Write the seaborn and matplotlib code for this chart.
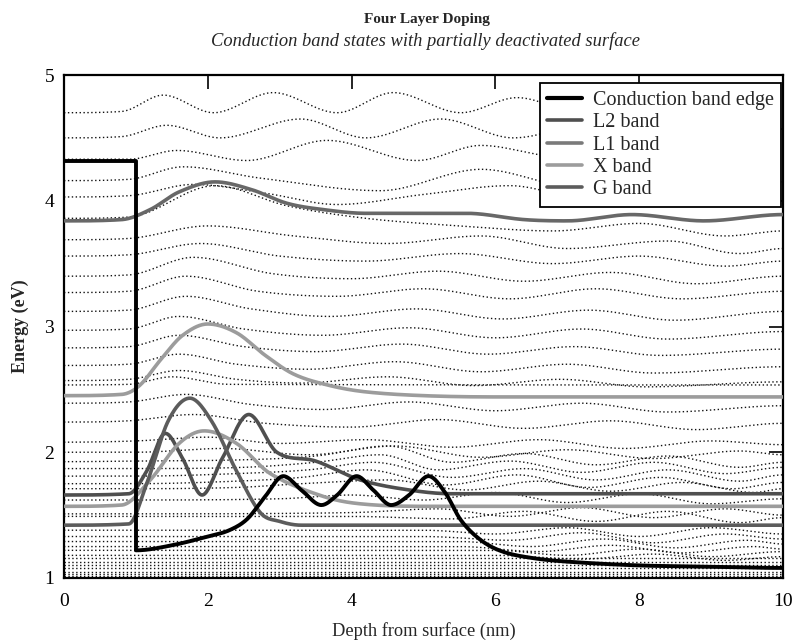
import numpy as np
import matplotlib
matplotlib.use("Agg")
import matplotlib.pyplot as plt
import seaborn as sns
import pandas as pd

# ---------------------------------------------------------------- data
# Conduction band edge: surface barrier step, then the doped-layer profile
edge_step_x = [0.0, 1.0, 1.0]
edge_step_e = [4.32, 4.32, 1.22]
edge_x = [1.0, 1.5, 2.0, 2.3, 2.55, 2.8, 3.05, 3.3, 3.58, 3.8, 4.07, 4.3, 4.55,
          4.8, 5.07, 5.3, 5.52, 5.8, 6.1, 6.5, 7.0, 8.0, 9.0, 10.0]
edge_e = [1.22, 1.26, 1.33, 1.38, 1.47, 1.65, 1.81, 1.70, 1.58, 1.66, 1.81, 1.70,
          1.58, 1.66, 1.81, 1.68, 1.46, 1.30, 1.21, 1.16, 1.13, 1.10, 1.09, 1.08]

# Highlighted states (probability density drawn on top of the eigen-energy)
g_x = [0.0, 0.9, 1.15, 1.45, 1.75, 2.05, 2.4, 2.73, 3.0, 3.3, 4.0, 10.0]
g_e = [1.42, 1.43, 1.75, 2.25, 2.43, 2.25, 1.85, 1.52, 1.45, 1.42, 1.42, 1.42]

l2_x = [0.0, 0.9, 1.15, 1.41, 1.65, 1.92, 2.2, 2.57, 2.96, 3.5, 4.12, 4.8, 5.4, 10.0]
l2_e = [1.66, 1.67, 1.85, 2.15, 1.95, 1.66, 1.95, 2.30, 2.00, 1.93, 1.78, 1.70, 1.67, 1.67]

x_x = [0.0, 0.8, 1.2, 1.6, 1.95, 2.4, 2.87, 3.6, 4.12, 5.0, 6.0, 10.0]
x_e = [1.57, 1.58, 1.78, 2.07, 2.17, 2.07, 1.83, 1.65, 1.59, 1.57, 1.57, 1.57]

l1_x = [0.0, 0.8, 1.05, 1.35, 1.65, 2.0, 2.4, 2.8, 3.2, 3.7, 4.2, 5.0, 6.0, 10.0]
l1_e = [2.45, 2.46, 2.53, 2.74, 2.93, 3.02, 2.95, 2.77, 2.62, 2.53, 2.48, 2.45, 2.44, 2.44]

top_x = [0.0, 0.8, 1.2, 1.6, 2.1, 2.6, 3.1, 3.6, 4.2, 5.0, 5.6, 6.4, 7.0, 7.9, 8.9, 10.0]
top_e = [3.84, 3.85, 3.93, 4.07, 4.15, 4.09, 3.98, 3.93, 3.90, 3.90, 3.90, 3.85,
         3.84, 3.89, 3.84, 3.89]

# Remaining confined states (dotted), as (depth, energy) knots
dotted_states = [
    [(0, 4.70), (0.8, 4.71), (1.38, 4.84), (2.08, 4.70), (2.91, 4.86), (3.8, 4.70),
     (4.58, 4.86), (5.52, 4.70), (6.3, 4.82), (7.2, 4.70), (8.0, 4.82), (8.9, 4.72),
     (9.6, 4.80), (10, 4.76)],
    [(0, 4.50), (0.8, 4.51), (1.43, 4.60), (2.17, 4.50), (3.29, 4.65), (4.2, 4.50),
     (5.24, 4.65), (6.25, 4.50), (7.4, 4.62), (8.5, 4.52), (9.5, 4.60), (10, 4.57)],
    [(0, 4.33), (0.9, 4.33), (1.57, 4.40), (2.54, 4.32), (3.66, 4.48), (4.91, 4.32),
     (5.8, 4.44), (6.9, 4.35), (8.0, 4.45), (9.0, 4.36), (10, 4.40)],
    [(0, 4.16), (0.9, 4.17), (1.66, 4.27), (2.73, 4.18), (4.4, 4.08), (5.8, 4.25),
     (7.2, 4.10), (8.5, 4.25), (10, 4.15)],
    [(0, 4.03), (0.9, 4.04), (1.8, 4.13), (2.8, 4.06), (3.8, 3.97), (5.0, 4.05),
     (6.2, 4.12), (7.4, 4.00), (8.6, 4.08), (10, 4.00)],
    [(0, 3.86), (0.9, 3.87), (2.1, 4.12), (3.1, 3.96), (4.2, 3.86), (5.5, 3.80),
     (6.8, 3.76), (8.0, 3.82), (9.2, 3.72), (10, 3.76)],
    [(0, 3.69), (0.9, 3.70), (2.0, 3.80), (3.2, 3.72), (4.5, 3.66), (5.8, 3.72),
     (7.0, 3.62), (8.4, 3.68), (9.4, 3.58), (10, 3.62)],
    [(0, 3.56), (0.9, 3.57), (1.9, 3.66), (3.0, 3.56), (4.2, 3.52), (5.5, 3.58),
     (6.8, 3.50), (8.0, 3.56), (9.2, 3.48), (10, 3.52)],
    [(0, 3.40), (0.9, 3.41), (1.8, 3.55), (2.9, 3.42), (4.0, 3.38), (5.2, 3.44),
     (6.4, 3.36), (7.6, 3.43), (8.8, 3.34), (10, 3.40)],
    [(0, 3.27), (0.9, 3.28), (1.7, 3.40), (2.7, 3.28), (3.8, 3.24), (5.0, 3.30),
     (6.2, 3.22), (7.4, 3.30), (8.6, 3.22), (10, 3.28)],
    [(0, 3.12), (0.9, 3.13), (1.7, 3.24), (2.6, 3.14), (3.7, 3.08), (4.9, 3.14),
     (6.1, 3.06), (7.3, 3.13), (8.5, 3.05), (10, 3.12)],
    [(0, 2.97), (0.9, 2.98), (1.6, 3.08), (2.5, 2.98), (3.6, 2.93), (4.8, 2.99),
     (6.0, 2.91), (7.2, 2.98), (8.4, 2.90), (10, 2.96)],
    [(0, 2.83), (0.9, 2.84), (1.6, 2.93), (2.5, 2.84), (3.5, 2.80), (4.7, 2.86),
     (5.9, 2.78), (7.1, 2.84), (8.3, 2.77), (10, 2.82)],
    [(0, 2.69), (0.9, 2.70), (1.6, 2.78), (2.4, 2.70), (3.4, 2.66), (4.6, 2.72),
     (5.8, 2.64), (7.0, 2.70), (8.2, 2.63), (10, 2.68)],
    [(0, 2.57), (0.9, 2.58), (1.6, 2.65), (2.4, 2.58), (3.3, 2.55), (4.5, 2.60),
     (5.7, 2.53), (6.9, 2.58), (8.1, 2.52), (10, 2.56)],
    [(0, 2.535), (0.9, 2.54), (1.5, 2.60), (2.3, 2.54), (10, 2.535)],
    [(0, 2.39), (0.9, 2.40), (1.7, 2.46), (2.6, 2.38), (3.6, 2.34), (4.8, 2.40),
     (6.0, 2.33), (7.2, 2.39), (8.4, 2.32), (10, 2.37)],
    [(0, 2.24), (0.9, 2.25), (1.8, 2.30), (2.8, 2.23), (4.0, 2.20), (5.2, 2.26),
     (6.4, 2.19), (7.6, 2.25), (8.8, 2.18), (10, 2.23)],
    [(0, 2.08), (1.0, 2.09), (2.0, 2.12), (3.0, 2.07), (4.2, 2.10), (5.4, 2.04),
     (6.6, 2.10), (7.8, 2.03), (9.0, 2.09), (10, 2.06)],
    [(0, 2.00), (1.0, 2.00), (2.2, 2.03), (3.4, 1.98), (4.6, 2.05), (5.8, 1.96),
     (7.0, 2.02), (8.2, 1.95), (9.4, 2.01), (10, 1.98)],
    [(0, 1.925), (1.0, 1.93), (2.5, 1.94), (3.5, 1.97), (4.5, 2.05), (5.4, 1.92),
     (6.4, 1.99), (7.4, 1.90), (8.4, 1.97), (9.4, 1.88), (10, 1.92)],
    [(0, 1.87), (1.0, 1.87), (2.5, 1.88), (3.5, 1.92), (4.4, 1.98), (5.2, 1.86),
     (6.2, 1.93), (7.2, 1.84), (8.2, 1.92), (9.2, 1.83), (10, 1.88)],
    [(0, 1.81), (1.0, 1.81), (2.4, 1.83), (3.4, 1.86), (4.3, 1.92), (5.4, 1.80),
     (6.4, 1.87), (7.4, 1.78), (8.4, 1.86), (9.4, 1.77), (10, 1.82)],
    [(0, 1.75), (1.0, 1.75), (2.4, 1.77), (3.3, 1.80), (4.2, 1.86), (5.3, 1.74),
     (6.3, 1.82), (7.3, 1.72), (8.3, 1.80), (9.3, 1.71), (10, 1.76)],
    [(0, 1.71), (1.0, 1.71), (2.4, 1.72), (3.3, 1.75), (4.5, 1.78), (5.6, 1.70),
     (6.6, 1.77), (7.6, 1.69), (8.6, 1.76), (9.6, 1.68), (10, 1.71)],
    [(0, 1.62), (1.0, 1.62), (3.0, 1.63), (4.0, 1.66), (5.0, 1.62), (6.0, 1.68),
     (7.0, 1.60), (8.0, 1.67), (9.0, 1.59), (10, 1.63)],
    [(0, 1.51), (1.0, 1.51), (4.0, 1.52), (5.2, 1.55), (6.2, 1.49), (7.2, 1.56),
     (8.2, 1.48), (9.2, 1.55), (10, 1.50)],
    [(0, 1.49), (1.0, 1.49), (4.0, 1.49), (5.4, 1.47), (6.4, 1.53), (7.4, 1.45),
     (8.4, 1.53), (9.4, 1.44), (10, 1.48)],
    [(0, 1.38), (1.0, 1.38), (5.0, 1.38), (6.0, 1.35), (7.0, 1.40), (8.0, 1.33),
     (9.0, 1.40), (10, 1.35)],
    [(0, 1.33), (1.0, 1.33), (5.0, 1.33), (6.2, 1.30), (7.2, 1.36), (8.2, 1.28),
     (9.2, 1.35), (10, 1.31)],
    [(0, 1.29), (1.0, 1.29), (5.5, 1.29), (6.5, 1.25), (7.5, 1.31), (8.5, 1.24),
     (9.5, 1.30), (10, 1.27)],
    [(0, 1.25), (1.0, 1.25), (5.5, 1.25), (6.6, 1.21), (7.6, 1.26), (8.6, 1.20),
     (9.6, 1.25), (10, 1.23)],
    [(0, 1.22), (6.0, 1.22), (7.0, 1.18), (8.0, 1.23), (9.0, 1.17), (10, 1.21)],
    [(0, 1.18), (6.0, 1.18), (7.2, 1.15), (8.2, 1.19), (9.2, 1.14), (10, 1.17)],
    [(0, 1.16), (10, 1.16)],
    [(0, 1.13), (10, 1.13)],
    [(0, 1.10), (10, 1.10)],
    [(0, 1.08), (10, 1.08)],
    [(0, 1.05), (10, 1.05)],
    [(0, 1.03), (10, 1.03)],
    [(0, 1.015), (10, 1.015)],
]

legend_labels = ["Conduction band edge", "L2 band", "L1 band", "X band", "G band"]
legend_colors = ["#000000", "#4f4f4f", "#7a7a7a", "#9c9c9c", "#5c5c5c"]


def smooth_curve(xk, yk, per_unit=80):
    """Cubic Hermite curve through the knots; flat tangents at local extrema."""
    xk = np.asarray(xk, float)
    yk = np.asarray(yk, float)
    if len(xk) < 3:
        return xk, yk
    h = np.diff(xk)
    d = np.diff(yk) / h
    m = np.zeros_like(yk)
    for i in range(1, len(xk) - 1):
        if d[i - 1] * d[i] > 0:
            m[i] = (yk[i + 1] - yk[i - 1]) / (xk[i + 1] - xk[i - 1])
            lim = 3 * min(abs(d[i - 1]), abs(d[i]))
            m[i] = np.sign(m[i]) * min(abs(m[i]), lim)
    xs, ys = [], []
    for i in range(len(h)):
        n = max(int(h[i] * per_unit), 6)
        t = np.linspace(0, 1, n, endpoint=(i == len(h) - 1))
        h00 = 2 * t**3 - 3 * t**2 + 1
        h10 = t**3 - 2 * t**2 + t
        h01 = -2 * t**3 + 3 * t**2
        h11 = t**3 - t**2
        xs.append(xk[i] + t * h[i])
        ys.append(h00 * yk[i] + h10 * h[i] * m[i] + h01 * yk[i + 1] + h11 * h[i] * m[i + 1])
    return np.concatenate(xs), np.concatenate(ys)


# ---------------------------------------------------------------- figure
sns.set_theme(style="white")
plt.rcParams["font.family"] = ["Liberation Serif", "DejaVu Serif"]

fig = plt.figure(figsize=(7.95, 6.43), dpi=100)
ax = fig.add_axes([64 / 795, 1 - 578 / 643, (783 - 64) / 795, (578 - 75) / 643])

# dotted confined states
for knots in dotted_states:
    kx, ke = zip(*knots)
    sx, se = smooth_curve(kx, ke)
    df = pd.DataFrame({"depth": sx, "energy": se})
    sns.lineplot(data=df, x="depth", y="energy", ax=ax, sort=False, estimator=None,
                 color="#111111", lw=1.0, linestyle=(0, (1, 1.8)), zorder=1)

# highlighted states
curves = [
    (top_x, top_e, "#686868", None),
    (l1_x, l1_e, legend_colors[3], legend_labels[2]),
    (l2_x, l2_e, legend_colors[1], legend_labels[1]),
    (x_x, x_e, legend_colors[3], legend_labels[3]),
    (g_x, g_e, legend_colors[4], legend_labels[4]),
]
for kx, ke, col, lab in curves:
    sx, se = smooth_curve(kx, ke)
    df = pd.DataFrame({"depth": sx, "energy": se})
    sns.lineplot(data=df, x="depth", y="energy", ax=ax, sort=False, estimator=None,
                 color=col, lw=2.6, zorder=3)

# conduction band edge
sns.lineplot(x=edge_step_x, y=edge_step_e, ax=ax, sort=False, estimator=None,
             color="black", lw=2.8, zorder=4)
ex, ee = smooth_curve(edge_x, edge_e)
sns.lineplot(x=ex, y=ee, ax=ax, sort=False, estimator=None, color="black", lw=2.8, zorder=4)

ax.set_xlim(0, 10)
ax.set_ylim(1, 5)
ax.set_xticks([0, 2, 4, 6, 8, 10])
ax.set_yticks([1, 2, 3, 4, 5])
ax.tick_params(direction="in", length=10, width=1.2, top=True, right=True,
               labelsize=14, colors="black")
ax.tick_params(axis="x", pad=11)
ax.tick_params(axis="y", pad=7)
for s in ax.spines.values():
    s.set_color("black")
    s.set_linewidth(1.6)

ax.set_xlabel("Depth from surface (nm)", fontsize=13.2, labelpad=8.5)
ax.set_ylabel("Energy (eV)", fontsize=13, fontweight="bold", labelpad=11)

fig.text(0.537, 0.969, "Four Layer Doping", ha="center", va="center",
         fontsize=11, fontweight="bold")
fig.text(0.535, 0.936, "Conduction band states with partially deactivated surface",
         ha="center", va="center", fontsize=13.3, style="italic")

# legend built from the line styles used above
proxy = [plt.Line2D([], [], color=c, lw=3.0 if c == "#000000" else 2.6)
         for c in legend_colors]
leg = ax.legend(proxy, legend_labels, loc="upper right",
                bbox_to_anchor=(0.9975, 0.9835), fontsize=14.5,
                frameon=True, fancybox=False, edgecolor="black", framealpha=1,
                handlelength=1.75, borderpad=0.38, labelspacing=0.16,
                handletextpad=0.5, borderaxespad=0.0)
leg.get_frame().set_linewidth(1.3)

fig.savefig("out.png", dpi=100, facecolor="white")
